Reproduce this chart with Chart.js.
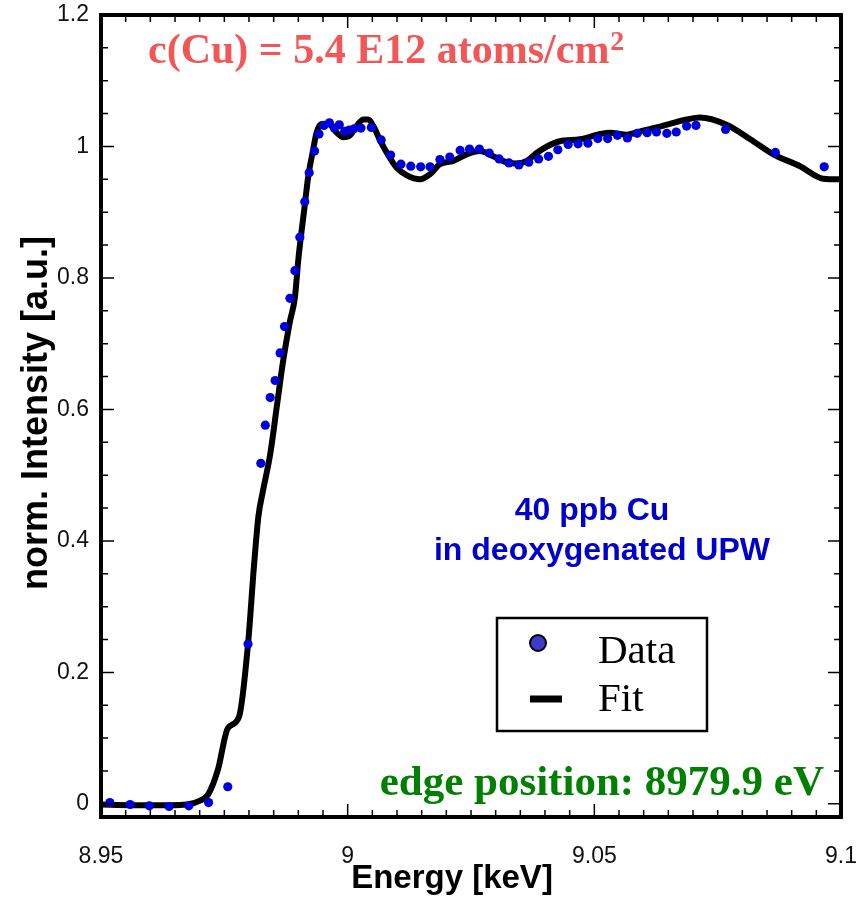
<!DOCTYPE html>
<html>
<head>
<meta charset="utf-8">
<script src="https://cdn.jsdelivr.net/npm/chart.js@4.4.1/dist/chart.umd.min.js"></script>
<style>
  body { margin: 0; background: #fff; }
  #wrap { width: 856px; height: 899px; }
</style>
</head>
<body>
<div id="wrap"><canvas id="xanes" width="856" height="899"></canvas></div>
<script>
// measured spectrum (blue dots)
const dataE = [8.9518, 8.9559, 8.9598, 8.9638, 8.9678, 8.9718, 8.9757, 8.9798,
  8.9824, 8.9833, 8.9843, 8.9853, 8.9863, 8.9872, 8.9883, 8.9893, 8.9903, 8.9913,
  8.9922, 8.9933, 8.9942, 8.9952, 8.9963, 8.9973, 8.9983, 8.9994, 9.0003, 9.0013,
  9.0027, 9.0048, 9.0068, 9.0087, 9.0108, 9.0128, 9.0148, 9.0167, 9.0187, 9.0207,
  9.0228, 9.0247, 9.0267, 9.0287, 9.0307, 9.0327, 9.0347, 9.0367, 9.0387, 9.0407,
  9.0426, 9.0447, 9.0467, 9.0487, 9.0507, 9.0527, 9.0547, 9.0567, 9.0587, 9.0607,
  9.0626, 9.0647, 9.0666, 9.0687, 9.0706, 9.0766, 9.0867, 9.0966];
const dataI = [0.002, -0.001, -0.003, -0.004, -0.003, 0.002, 0.026, 0.243,
  0.518, 0.576, 0.618, 0.644, 0.686, 0.726, 0.769, 0.811, 0.862, 0.916,
  0.960, 0.993, 1.019, 1.032, 1.036, 1.028, 1.033, 1.023, 1.025, 1.027,
  1.028, 1.029, 1.010, 0.987, 0.973, 0.970, 0.969, 0.969, 0.980, 0.984,
  0.994, 0.996, 0.996, 0.990, 0.981, 0.975, 0.972, 0.976, 0.981, 0.985,
  0.995, 1.003, 1.004, 1.005, 1.012, 1.012, 1.017, 1.013, 1.020, 1.021,
  1.022, 1.020, 1.022, 1.031, 1.032, 1.026, 0.991, 0.969];

// fit curve (black line)
const fitE = [8.95, 8.9559, 8.964, 8.9674, 8.9701, 8.9717, 8.9737, 8.9757, 8.978,
  8.9798, 8.981, 8.9819, 8.9828, 8.9843, 8.9857, 8.9869, 8.9883, 8.9893, 8.99,
  8.9907, 8.9912, 8.992, 8.993, 8.9937, 8.9947, 8.9961, 8.9978, 8.9991, 9.0005,
  9.0018, 9.0032, 9.0042, 9.0052, 9.0066, 9.0079, 9.0099, 9.012, 9.0147, 9.0167,
  9.0187, 9.0214, 9.0241, 9.0268, 9.0295, 9.0322, 9.0343, 9.0363, 9.0383, 9.0404,
  9.043, 9.0471, 9.0512, 9.0532, 9.0566, 9.0593, 9.0626, 9.066, 9.0687, 9.0714,
  9.0768, 9.0816, 9.0863, 9.0917, 9.0964, 9.1];
const fitI = [-0.001, -0.002, -0.002, -0.001, 0.005, 0.014, 0.052, 0.115, 0.133,
  0.243, 0.361, 0.437, 0.475, 0.532, 0.608, 0.673, 0.734, 0.770, 0.828,
  0.874, 0.904, 0.954, 0.995, 1.021, 1.034, 1.034, 1.021, 1.014, 1.017,
  1.031, 1.041, 1.041, 1.031, 1.009, 0.991, 0.968, 0.956, 0.950, 0.958,
  0.973, 0.978, 0.988, 0.993, 0.985, 0.976, 0.974, 0.978, 0.990, 1.000,
  1.008, 1.011, 1.019, 1.021, 1.018, 1.023, 1.029, 1.036, 1.041, 1.044,
  1.033, 1.011, 0.988, 0.970, 0.951, 0.950];

const xTicks = [8.95, 9, 9.05, 9.1];
const yTicks = [0, 0.2, 0.4, 0.6, 0.8, 1, 1.2];

const tickFont = { family: "'Liberation Sans', Arial, sans-serif", size: 23 };

// frame, inward ticks on all four sides, and the text annotations
const framePlugin = {
  id: 'frame',
  afterDraw(chart) {
    const ctx = chart.ctx;
    const a = chart.chartArea;
    const xs = chart.scales.x, ys = chart.scales.y;
    ctx.save();
    ctx.strokeStyle = '#000';
    ctx.lineWidth = 1.5;
    ctx.beginPath();
    for (let k = 0; k <= 30; k++) {
      const px = xs.getPixelForValue(8.95 + k * 0.005);
      const len = k % 10 === 0 ? 13 : 7;
      ctx.moveTo(px, a.bottom); ctx.lineTo(px, a.bottom - len);
      ctx.moveTo(px, a.top); ctx.lineTo(px, a.top + len);
    }
    for (let k = 0; k <= 24; k++) {
      const py = ys.getPixelForValue(k * 0.05);
      const len = k % 4 === 0 ? 13 : 7;
      ctx.moveTo(a.left, py); ctx.lineTo(a.left + len, py);
      ctx.moveTo(a.right, py); ctx.lineTo(a.right - len, py);
    }
    ctx.stroke();

    ctx.lineWidth = 4;
    ctx.strokeRect(a.left, a.top, a.right - a.left, a.bottom - a.top);

    // axis titles
    ctx.fillStyle = '#000';
    ctx.font = "bold 33px 'Liberation Sans', Arial, sans-serif";
    ctx.textAlign = 'center';
    ctx.textBaseline = 'alphabetic';
    ctx.fillText('Energy [keV]', 452, 888);
    ctx.save();
    ctx.translate(47, 413);
    ctx.rotate(-Math.PI / 2);
    ctx.font = "bold 36px 'Liberation Sans', Arial, sans-serif";
    ctx.fillText('norm. Intensity [a.u.]', 0, 0);
    ctx.restore();

    // concentration
    ctx.textAlign = 'left';
    ctx.fillStyle = '#f25656';
    ctx.font = "bold 42px 'Liberation Serif', 'Times New Roman', serif";
    const main = 'c(Cu) = 5.4 E12 atoms/cm';
    ctx.fillText(main, 148, 63);
    const w = ctx.measureText(main).width;
    ctx.font = "bold 28px 'Liberation Serif', 'Times New Roman', serif";
    ctx.fillText('2', 148 + w + 1, 50);

    // sample description
    ctx.fillStyle = '#0000cc';
    ctx.textAlign = 'center';
    ctx.font = "bold 32px 'Liberation Sans', Arial, sans-serif";
    ctx.fillText('40 ppb Cu', 592, 520);
    ctx.fillText('in deoxygenated UPW', 602, 560);

    // edge position
    ctx.fillStyle = '#008000';
    ctx.textAlign = 'right';
    ctx.font = "bold 43px 'Liberation Serif', 'Times New Roman', serif";
    ctx.fillText('edge position: 8979.9 eV', 824, 795);

    // legend box
    ctx.strokeStyle = '#000';
    ctx.lineWidth = 2.5;
    ctx.strokeRect(497, 618, 210, 113);
    ctx.beginPath();
    ctx.arc(538, 643, 8, 0, Math.PI * 2);
    ctx.fillStyle = '#3c3ccc';
    ctx.fill();
    ctx.lineWidth = 2;
    ctx.stroke();
    ctx.lineWidth = 7;
    ctx.beginPath();
    ctx.moveTo(530, 699); ctx.lineTo(562, 699);
    ctx.stroke();
    ctx.fillStyle = '#000';
    ctx.textAlign = 'left';
    ctx.font = "41px 'Liberation Serif', 'Times New Roman', serif";
    ctx.fillText('Data', 598, 663);
    ctx.fillText('Fit', 598, 711);
    ctx.restore();
  }
};

const ctx = document.getElementById('xanes').getContext('2d');
new Chart(ctx, {
  type: 'scatter',
  data: {
    datasets: [
      {
        label: 'Data',
        data: dataE.map((e, i) => ({ x: e, y: dataI[i] })),
        backgroundColor: '#0000dd',
        borderWidth: 0,
        pointRadius: 4.6,
        showLine: false
      },
      {
        label: 'Fit',
        data: fitE.map((e, i) => ({ x: e, y: fitI[i] })),
        borderColor: '#000',
        borderWidth: 6,
        pointRadius: 0,
        showLine: true,
        cubicInterpolationMode: 'monotone',
        borderCapStyle: 'round',
        borderJoinStyle: 'round'
      }
    ]
  },
  options: {
    responsive: false,
    animation: false,
    layout: { padding: { left: 0, right: 15, top: 15, bottom: 0 } },
    plugins: { legend: { display: false }, tooltip: { enabled: false } },
    scales: {
      x: {
        type: 'linear',
        min: 8.95, max: 9.1,
        grid: { display: false, drawTicks: false },
        border: { display: false },
        afterBuildTicks: s => { s.ticks = xTicks.map(v => ({ value: v })); },
        afterFit: s => { s.height = 82; s.paddingLeft = 0; s.paddingRight = 0; },
        ticks: {
          font: tickFont, color: '#111', padding: 26, maxRotation: 0, autoSkip: false,
          callback: v => String(+v.toFixed(3))
        }
      },
      y: {
        min: -0.02, max: 1.2,
        grid: { display: false, drawTicks: false },
        border: { display: false },
        afterBuildTicks: s => { s.ticks = yTicks.map(v => ({ value: v })); },
        afterFit: s => { s.width = 101; s.paddingTop = 0; s.paddingBottom = 0; },
        ticks: {
          font: tickFont, color: '#111', padding: 12,
          callback: v => String(+v.toFixed(2))
        }
      }
    }
  },
  plugins: [framePlugin]
});
</script>
</body>
</html>
